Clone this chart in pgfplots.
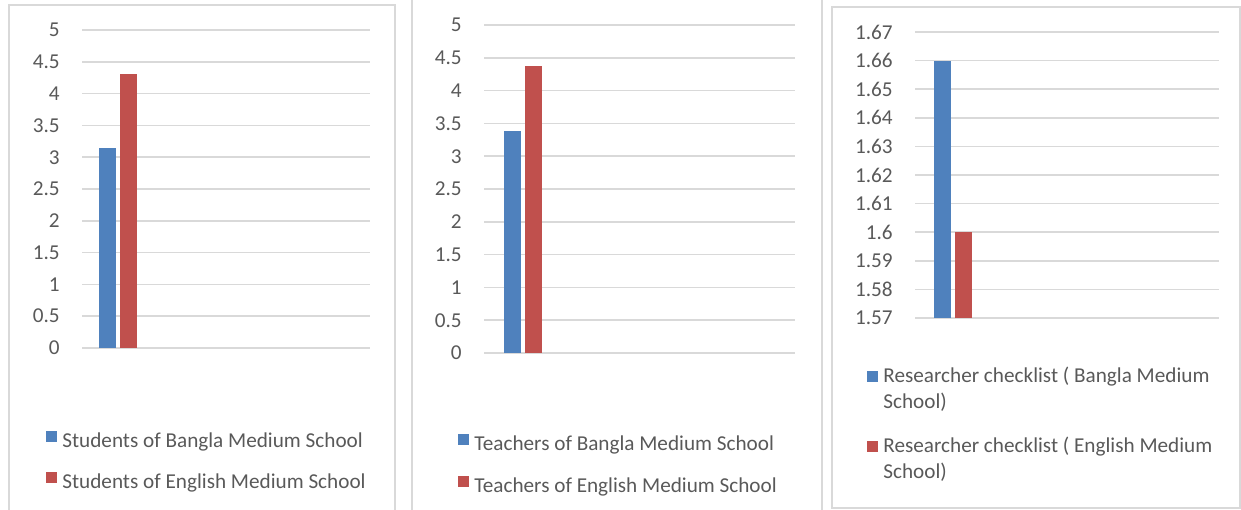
\documentclass[border=0pt]{standalone}
\usepackage{fontspec}
\setmainfont{Carlito}
\usepackage{pgfplots}
\pgfplotsset{compat=1.18}
\definecolor{xblue}{HTML}{4F81BD}
\definecolor{xred}{HTML}{C0504D}
\definecolor{xtext}{HTML}{595959}
\definecolor{xgrid}{HTML}{D9D9D9}
\definecolor{xframe}{HTML}{D9D9D9}
\newcommand{\chartfont}{\fontsize{10.6}{12.7}\selectfont}
\pgfplotsset{
  panel/.style={
    scale only axis, anchor=south west,
    axis line style={draw=none},
    tick style={draw=none},
    major tick length=0pt,
    xmin=0.5, xmax=4.5, xtick=\empty,
    ymajorgrids, grid style={xgrid, line width=0.75pt},
    ybar=2pt, bar width=8.5pt,
    ticklabel style={font=\chartfont, text=xtext},
    /pgf/number format/assume math mode=true,
    yticklabel style={inner sep=0pt, xshift=-11pt},
    legend image code/.code={\fill[##1] (0pt,0pt) rectangle (5.5pt,5.5pt);},
    legend cell align=left,
    legend style={draw=none, fill=none, inner sep=0pt, anchor=north west,
      font=\chartfont, text=xtext, column sep=2.5pt, row sep=10.5pt,
      nodes={inner sep=0pt, text height=7pt, text depth=2pt}},
  }
}
\begin{document}
\begin{tikzpicture}
\useasboundingbox (0,0) rectangle (620.5pt,254.5pt);
% panel frames
\draw[xframe, line width=1pt] (4.5pt,-1pt) -- (4.5pt,252pt) -- (197.5pt,252pt) -- (197.5pt,-1pt);
\draw[xframe, line width=1pt] (206pt,-1pt) -- (206pt,256pt);
\draw[xframe, line width=1pt] (411pt,-1pt) -- (411pt,256pt);
\draw[xframe, line width=1pt] (416pt,0.5pt) rectangle (620pt,251pt);

% panel 1
\begin{axis}[panel, at={(41pt,80.5pt)}, width=144pt, height=159pt,
  ymin=0, ymax=5, ytick={0,0.5,...,5},
  legend style={at={(-0.125,-0.261)}}]
\addplot[fill=xblue, draw=none] coordinates {(1,3.14)};
\addplot[fill=xred, draw=none] coordinates {(1,4.31)};
\addlegendentry{Students of Bangla Medium School}
\addlegendentry{Students of English Medium School}
\end{axis}

% panel 2
\begin{axis}[panel, at={(242pt,78pt)}, width=155.5pt, height=164pt,
  ymin=0, ymax=5, ytick={0,0.5,...,5},
  legend style={at={(-0.0836,-0.247)}, row sep=11pt}]
\addplot[fill=xblue, draw=none] coordinates {(1,3.38)};
\addplot[fill=xred, draw=none] coordinates {(1,4.38)};
\addlegendentry{Teachers of Bangla Medium School}
\addlegendentry{Teachers of English Medium School}
\end{axis}

% panel 3
\renewcommand{\arraystretch}{1.02}
\begin{axis}[panel, at={(457.5pt,95.5pt)}, width=152pt, height=143pt,
  ymin=1.57, ymax=1.67,
  ytick={1.57,1.58,1.59,1.60,1.61,1.62,1.63,1.64,1.65,1.66,1.67},
  legend style={at={(-0.158,-0.14)}, row sep=11pt,
    nodes={inner sep=0pt, text height=12pt, text depth=12pt}}]
\addplot[fill=xblue, draw=none] coordinates {(1,1.66)};
\addplot[fill=xred, draw=none] coordinates {(1,1.60)};
\addlegendentry{\begin{tabular}[t]{@{}l@{}}Researcher checklist ( Bangla Medium\\School)\end{tabular}}
\addlegendentry{\begin{tabular}[t]{@{}l@{}}Researcher checklist ( English Medium\\School)\end{tabular}}
\end{axis}
\end{tikzpicture}
\end{document}
